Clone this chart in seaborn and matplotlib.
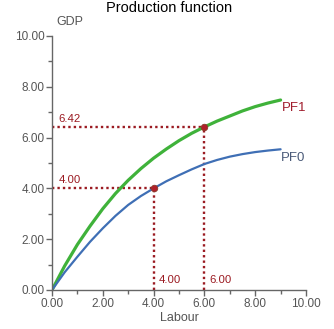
import matplotlib
matplotlib.use("Agg")
import matplotlib.pyplot as plt
import seaborn as sns
import pandas as pd
from matplotlib.ticker import MultipleLocator, FormatStrFormatter

# data
labour = [0, 0.5, 1, 1.5, 2, 2.5, 3, 3.5, 4, 4.5, 5, 5.5, 6, 6.5, 7, 7.5, 8, 8.5, 9]
pf0 = [0, 0.70, 1.31, 1.90, 2.43, 2.92, 3.35, 3.70, 4.00, 4.28, 4.52, 4.75, 4.96, 5.12, 5.25, 5.35, 5.43, 5.49, 5.54]
pf1 = [0, 0.95, 1.79, 2.52, 3.20, 3.80, 4.32, 4.78, 5.19, 5.55, 5.88, 6.17, 6.42, 6.65, 6.85, 7.05, 7.22, 7.36, 7.48]
point_x = [4.00, 6.00]
point_y = [4.00, 6.42]

sns.set_style("white")
plt.rcParams['font.family'] = ['Liberation Sans', 'DejaVu Sans']

fig = plt.figure(figsize=(3.34, 3.29), dpi=100)
ax = fig.add_axes([52/334, 39/329, 254/334, 254/329])

df = pd.DataFrame({"Labour": labour, "PF0": pf0, "PF1": pf1})
sns.lineplot(data=df, x="Labour", y="PF1", ax=ax, color="#3fb23a", linewidth=2.3)
sns.lineplot(data=df, x="Labour", y="PF0", ax=ax, color="#3f6fb5", linewidth=1.6)

dot_color = "#9b1b22"
for px, py in zip(point_x, point_y):
    ax.plot([0, px], [py, py], linestyle=(0, (1, 1.3)), color=dot_color, linewidth=1.7, zorder=1)
    ax.plot([px, px], [0, py], linestyle=(0, (1, 1.3)), color=dot_color, linewidth=1.7, zorder=1)
    ax.text(0.25, py + 0.12, f"{py:.2f}", color=dot_color, fontsize=8.2, ha="left", va="bottom")
    ax.text(px + 0.2, 0.4, f"{px:.2f}", color=dot_color, fontsize=8.2, ha="left", va="center")

sns.scatterplot(x=point_x, y=point_y, ax=ax, color="#b0202a", s=22, edgecolor="#8a3a2a", linewidth=0.6, zorder=5)

ax.text(labour[-1] + 0.05, 7.17, "PF1", color="#a01c2c", fontsize=9.5, ha="left", va="center")
ax.text(labour[-1] + 0.0, 5.2, "PF0", color="#4a5a78", fontsize=9.5, ha="left", va="center")

ax.set_xlim(0, 10)
ax.set_ylim(0, 10)
ax.xaxis.set_major_locator(MultipleLocator(2))
ax.xaxis.set_minor_locator(MultipleLocator(1))
ax.yaxis.set_major_locator(MultipleLocator(2))
ax.yaxis.set_minor_locator(MultipleLocator(1))
ax.xaxis.set_major_formatter(FormatStrFormatter("%.2f"))
ax.yaxis.set_major_formatter(FormatStrFormatter("%.2f"))

grey = "#666666"
for s in ["top", "right"]:
    ax.spines[s].set_visible(False)
for s in ["left", "bottom"]:
    ax.spines[s].set_color(grey)
    ax.spines[s].set_linewidth(1.0)
ax.tick_params(which="major", direction="out", length=4, width=1, color=grey,
               labelcolor="#555555", labelsize=8.5, pad=1.5, left=True, bottom=True)
ax.tick_params(which="minor", direction="out", length=3, width=1, color=grey, left=True, bottom=True)

ax.set_xlabel("")
ax.set_ylabel("")
fig.text(179/334, 1 - 318/329, "Labour", color="#555555", fontsize=9, ha="center", va="center")
fig.text(70/334, 1 - 22/329, "GDP", color="#555555", fontsize=9, ha="center", va="center")
fig.text(169/334, 1 - 8/329, "Production function", color="black", fontsize=10.5, ha="center", va="center")

fig.savefig("out.png", dpi=100)
